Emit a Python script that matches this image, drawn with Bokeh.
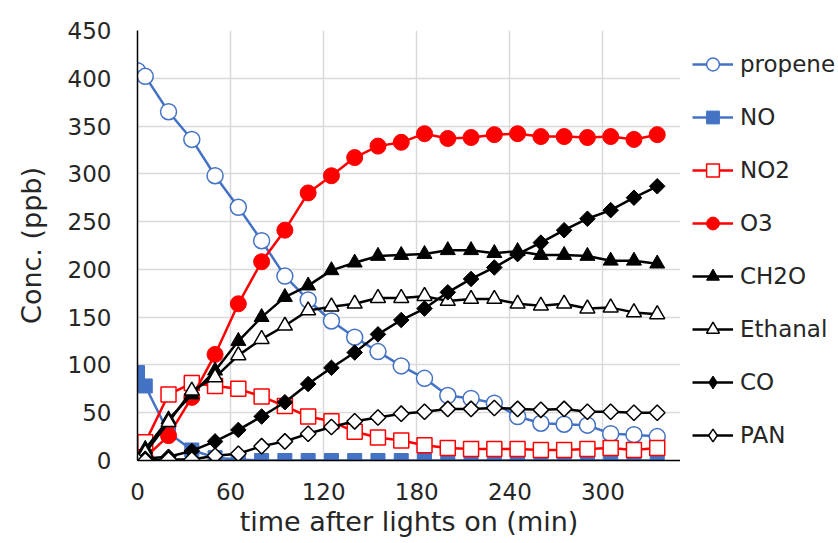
import numpy as np
from bokeh.plotting import figure
from bokeh.layouts import row
from bokeh.models import Legend, LegendItem, FixedTicker, Range1d
from bokeh.embed import file_html
from bokeh.resources import INLINE

# ---- data ----
times = [0, 5, 20, 35, 50, 65, 80, 95, 110, 125, 140, 155, 170, 185, 200, 215, 230, 245, 260, 275, 290, 305, 320, 335]
propene = [408, 402, 365, 336, 298, 265, 230, 193, 168, 146, 129, 114, 99, 86, 68, 65, 60, 46, 39, 38, 37, 28, 27, 25]
no = [92, 78, 29, 11, 3, 1, 0, 0, 0, 0, 0, 0, 0, 0, 0, 0, 0, 0, 0, 0, 0, 0, 0, 0]
no2 = [3, 19, 69, 81, 78, 75, 67, 57, 46, 41, 30, 24, 21, 16, 13, 12, 12, 12, 11, 11, 12, 13, 11, 13]
o3 = [0, 3, 26, 66, 111, 164, 208, 241, 280, 298, 317, 329, 333, 342, 337, 338, 341, 342, 339, 339, 338, 339, 336, 341]
ch2o = [0, 12, 43, 69, 94, 125, 150, 171, 183, 199, 207, 214, 215, 216, 220, 220, 217, 219, 215, 215, 214, 209, 209, 206]
ethanal = [0, 8, 40, 73, 87, 110, 127, 141, 157, 161, 164, 170, 170, 172, 167, 169, 169, 164, 162, 164, 159, 160, 155, 153]
co = [0, 2, 4, 10, 20, 32, 46, 61, 80, 97, 113, 132, 147, 159, 176, 190, 202, 216, 228, 241, 253, 262, 275, 287]
pan = [0, 0, 1, 1, 5, 7, 15, 20, 28, 35, 41, 45, 49, 51, 54, 54, 55, 54, 53, 54, 51, 51, 50, 50]

x_ticks = [0, 60, 120, 180, 240, 300]
y_ticks = [0, 50, 100, 150, 200, 250, 300, 350, 400, 450]

FONT = "DejaVu Sans"
BLUE = "#4472C4"
RED = "#FF0000"
BLACK = "#000000"
TXT = "#262626"
GRID = "#D9D9D9"

H = 543
p = figure(width=680, height=H, output_backend="svg", toolbar_location=None,
           x_range=Range1d(0, 350), y_range=Range1d(0, 450),
           min_border_left=137, min_border_right=0, min_border_top=30, min_border_bottom=83)
p.outline_line_color = None
p.background_fill_color = "white"
p.border_fill_color = "white"

p.xgrid.ticker = FixedTicker(ticks=x_ticks)
p.ygrid.ticker = FixedTicker(ticks=y_ticks)
for g in (p.xgrid, p.ygrid):
    g.grid_line_color = GRID
    g.grid_line_width = 1.5

p.xaxis.ticker = FixedTicker(ticks=x_ticks)
p.yaxis.ticker = FixedTicker(ticks=y_ticks)
for ax in (p.xaxis, p.yaxis):
    ax.axis_line_color = BLACK
    ax.axis_line_width = 1.5
    ax.major_tick_line_color = None
    ax.minor_tick_line_color = None
    ax.major_tick_out = 0
    ax.major_tick_in = 0
    ax.minor_tick_out = 0
    ax.minor_tick_in = 0
    ax.major_label_text_font = FONT
    ax.major_label_text_font_size = "23px"
    ax.major_label_text_color = TXT
    ax.axis_label_text_font = FONT
    ax.axis_label_text_font_size = "27px"
    ax.axis_label_text_font_style = "normal"
    ax.axis_label_text_color = TXT

p.xaxis.axis_label = "time after lights on (min)"
p.yaxis.axis_label = "Conc. (ppb)"
p.xaxis.major_label_standoff = 22
p.xaxis.axis_label_standoff = 3
p.yaxis.major_label_standoff = 26
p.yaxis.axis_label_standoff = 18

# side panel that carries the key
lf = figure(width=158, height=H, output_backend="svg", toolbar_location=None,
            x_range=Range1d(-2, -1), y_range=Range1d(-2, -1),
            x_axis_location=None, y_axis_location=None,
            min_border_left=0, min_border_right=0, min_border_top=0, min_border_bottom=0)
lf.grid.visible = False
lf.outline_line_color = None
lf.background_fill_color = "white"
lf.border_fill_color = "white"

series = [
    ("propene", propene, BLUE, "circle", "circle", "white", 16, 0),
    ("NO", no, BLUE, "square", "square", BLUE, 14, 0),
    ("NO2", no2, RED, "square", "square", "white", 15, 0),
    ("O3", o3, RED, "circle", "circle", RED, 16, 0),
    ("CH2O", ch2o, BLACK, "triangle", "triangle", BLACK, 15, 0),
    ("Ethanal", ethanal, BLACK, "triangle", "triangle", "white", 15, 0),
    ("CO", co, BLACK, "square", "diamond", BLACK, 11, np.pi / 4),
    ("PAN", pan, BLACK, "square", "diamond", "white", 11, np.pi / 4),
]

items = []
for name, vals, col, mk, key_mk, fill, sz, ang in series:
    edge_w = 1.5 if fill == "white" else 1
    p.line(times, vals, line_color=col, line_width=2.5)
    p.scatter(times, vals, marker=mk, size=sz, angle=ang, fill_color=fill,
              line_color=col, line_width=edge_w)
    # same series in the key panel (out of its visible range, only the key is seen)
    kl = lf.line(times, vals, line_color=col, line_width=2.5)
    ks = lf.scatter(times, vals, marker=key_mk, size=sz, fill_color=fill,
                    line_color=col, line_width=edge_w)
    items.append(LegendItem(label=name, renderers=[kl, ks]))

legend = Legend(items=items, location=(12, 9), orientation="vertical",
                label_text_font=FONT, label_text_font_size="23px", label_text_color=TXT,
                glyph_width=41, glyph_height=32, label_height=32, label_standoff=7,
                spacing=21, padding=0, margin=0, border_line_color=None,
                background_fill_alpha=0)
lf.add_layout(legend, "center")

layout = row(p, lf)
open("out.html", "w").write(file_html(layout, INLINE))
